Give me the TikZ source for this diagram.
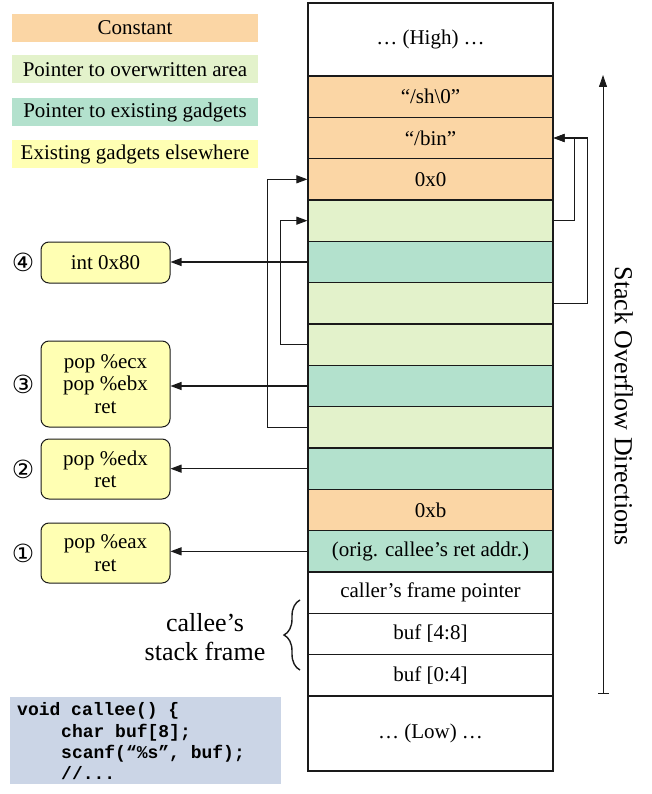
\documentclass[tikz,border=0pt]{standalone}
\usepackage{fontspec}
\setmainfont{Liberation Serif}
\newfontfamily\codefont{Liberation Mono}
\newfontfamily\symfont{DejaVu Sans}
\usetikzlibrary{arrows.meta,decorations.pathreplacing}

\definecolor{cconst}{HTML}{FBD6A5}
\definecolor{cover}{HTML}{E3F2CB}
\definecolor{cptr}{HTML}{B3E1CD}
\definecolor{cgadget}{HTML}{FFFFB3}
\definecolor{ccode}{HTML}{CBD5E6}
\definecolor{cline}{HTML}{1A1A1A}

\tikzset{
  cell/.style={draw=cline, line width=1.2pt, minimum width=245pt,
    minimum height=41.33pt, inner sep=0pt,
    font=\fontsize{21}{24}\selectfont},
  legendbox/.style={minimum width=246pt, minimum height=28pt, inner sep=0pt,
    font=\fontsize{21}{24}\selectfont},
  gadget/.style={draw=cline, fill=cgadget, line width=1pt, rounded corners=8pt,
    minimum width=129pt, inner sep=0pt, align=center,
    font=\fontsize{21}{22.3}\selectfont},
  stepnum/.style={inner sep=0pt, font=\symfont\fontsize{25}{27}\selectfont},
  conn/.style={draw=cline, line width=1.1pt, -{Triangle[length=11pt,width=8pt]}},
  codeline/.style={anchor=base west, inner sep=0pt,
    font=\codefont\fontsize{18}{21}\bfseries\selectfont},
}

\begin{document}
\begin{tikzpicture}[x=1pt,y=-1pt]
\useasboundingbox (0,0) rectangle (651,794);

% legend
\node[legendbox, fill=cconst] (lg1) at (135,28)  {Constant};
\node[legendbox, fill=cover]  (lg2) at (135,69.5) {Pointer to overwritten area};
\node[legendbox, fill=cptr]   (lg3) at (135,112) {Pointer to existing gadgets};
\node[legendbox, fill=cgadget](lg4) at (135,154) {Existing gadgets elsewhere};

% stack, high addresses on top
\node[cell, minimum height=73pt] (r0) at (430.5,39.5) {… (High) …};
\node[cell, fill=cconst] (r1)  at (430.5,96.67)  {“/sh\textbackslash0”};
\node[cell, fill=cconst] (r2)  at (430.5,138)    {“/bin”};
\node[cell, fill=cconst] (r3)  at (430.5,179.33) {0x0};
\node[cell, fill=cover]  (r4)  at (430.5,220.67) {};
\node[cell, fill=cptr]   (r5)  at (430.5,262)    {};
\node[cell, fill=cover]  (r6)  at (430.5,303.33) {};
\node[cell, fill=cover]  (r7)  at (430.5,344.67) {};
\node[cell, fill=cptr]   (r8)  at (430.5,386)    {};
\node[cell, fill=cover]  (r9)  at (430.5,427.33) {};
\node[cell, fill=cptr]   (r10) at (430.5,468.67) {};
\node[cell, fill=cconst] (r11) at (430.5,510)    {0xb};
\node[cell, fill=cptr]   (r12) at (430.5,551.33) {(orig. callee’s ret addr.)};
\node[cell]              (r13) at (430.5,592.67) {caller’s frame pointer};
\node[cell]              (r14) at (430.5,634)    {buf [4:8]};
\node[cell]              (r15) at (430.5,675.33) {buf [0:4]};
\node[cell, minimum height=75pt] (r16) at (430.5,733.5) {… (Low) …};

% gadgets
\node[gadget, minimum height=41pt] (g4) at (105.5,262.5) {int 0x80};
\node[gadget, minimum height=86pt] (g3) at (105.5,384) {pop \%ecx\\pop \%ebx\\ret};
\node[gadget, minimum height=60pt] (g2) at (105.5,469) {pop \%edx\\ret};
\node[gadget, minimum height=60pt] (g1) at (105.5,553) {pop \%eax\\ret};

\node[stepnum] (n4) at (23,262.5) {④};
\node[stepnum] (n3) at (23,384) {③};
\node[stepnum] (n2) at (23,469) {②};
\node[stepnum] (n1) at (23,553) {①};

% gadget pointers
\draw[conn] (r5.west)  -- (r5.west -| g4.east);
\draw[conn] (r8.west)  -- (r8.west -| g3.east);
\draw[conn] (r10.west) -- (r10.west -| g2.east);
\draw[conn] (r12.west) -- (r12.west -| g1.east);

% pointers into the overwritten area
\draw[conn] (r9.west) -- ++(-40,0) |- (r3.west);
\draw[conn] (r7.west) -- ++(-27,0) |- (r4.west);
\draw[conn] (r4.east) -- ++(21,0) |- (r2.east);
\draw[conn] (r6.east) -- ++(34,0) |- (r2.east);

% overflow direction
\coordinate (dirlo) at (603,694);
\coordinate (dirhi) at (603,75);
\draw[draw=cline, line width=0.9pt, {Bar[width=11pt]}-{Triangle[length=12pt,width=8pt]}] (dirlo) -- (dirhi);
\node[rotate=-90, font=\fontsize{26}{30}\selectfont] (dirlbl) at (624,406) {Stack Overflow Directions};

% callee's frame
\coordinate (brlo) at (300,670);
\coordinate (brhi) at (300,600);
\draw[draw=cline, line width=1.4pt, decorate, decoration={brace, amplitude=16pt}] (brlo) -- (brhi);
\node[align=center, inner sep=0pt, font=\fontsize{26}{29}\selectfont] (framelbl) at (205,637)
  {callee’s\\stack frame};

% source of the vulnerable function
\node[fill=ccode, minimum width=271pt, minimum height=87pt, inner sep=0pt] (codebox) at (145.5,740.5) {};
\node[codeline] (c1) at (17,715) {void callee() \{};
\node[codeline] (c2) at (61,737) {char buf[8];};
\node[codeline] (c3) at (61,758) {scanf(“\%s”, buf);};
\node[codeline] (c4) at (61,779) {//...};
\end{tikzpicture}
\end{document}
